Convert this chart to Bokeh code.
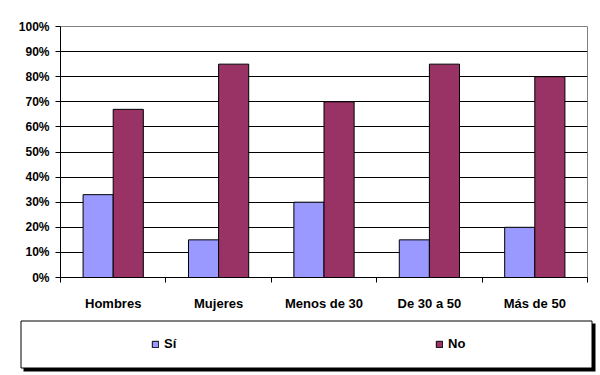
from bokeh.plotting import figure
from bokeh.models import (ColumnDataSource, FixedTicker, PrintfTickFormatter,
                          Legend, LegendItem, Range1d)
from bokeh.transform import dodge
from bokeh.embed import file_html
from bokeh.resources import INLINE

categories = ["Hombres", "Mujeres", "Menos de 30", "De 30 a 50", "Más de 50"]
si = [33, 15, 30, 15, 20]
no = [67, 85, 70, 85, 80]
series_names = ["Sí", "No"]
series_colors = ["#9999FF", "#993366"]
y_ticks = [0, 10, 20, 30, 40, 50, 60, 70, 80, 90, 100]

n = len(categories)
centers = [i + 0.5 for i in range(n)]
boundaries = list(range(n + 1))
src = ColumnDataSource(dict(x=centers, si=si, no=no))

FONT = "Liberation Sans"
bar_w = 1 / 3.5
W = 596

p = figure(width=W, height=313, x_range=(0, n), y_range=(y_ticks[0], y_ticks[-1]),
           output_backend="svg", toolbar_location=None,
           min_border_left=60, min_border_right=9, min_border_top=26, min_border_bottom=28)
p.background_fill_color = "white"
p.border_fill_color = "white"
p.outline_line_color = "#808080"
p.outline_line_width = 1

p.vbar(x=dodge("x", -bar_w / 2, range=p.x_range), top="si", width=bar_w, source=src,
       fill_color=series_colors[0], line_color="black", line_width=1)
p.vbar(x=dodge("x", bar_w / 2, range=p.x_range), top="no", width=bar_w, source=src,
       fill_color=series_colors[1], line_color="black", line_width=1)

# grid
p.xgrid.visible = False
p.ygrid.ticker = FixedTicker(ticks=[t for t in y_ticks if t < y_ticks[-1]])
p.ygrid.grid_line_color = "black"
p.ygrid.grid_line_width = 1

# y axis
ya = p.yaxis[0]
ya.ticker = FixedTicker(ticks=y_ticks)
ya.formatter = PrintfTickFormatter(format="%d%%")
ya.major_tick_out = 5
ya.major_tick_in = 0
ya.minor_tick_line_color = None
ya.axis_line_color = "black"
ya.major_tick_line_color = "black"
ya.major_label_standoff = 6
ya.major_label_text_font = FONT
ya.major_label_text_font_style = "bold"
ya.major_label_text_font_size = "12px"
ya.major_label_text_color = "black"

# x axis
xa = p.xaxis[0]
xa.ticker = FixedTicker(ticks=centers, minor_ticks=boundaries)
xa.major_label_overrides = {c: lab for c, lab in zip(centers, categories)}
xa.major_tick_out = 0
xa.major_tick_in = 0
xa.major_tick_line_color = None
xa.minor_tick_out = 5
xa.minor_tick_in = 0
xa.minor_tick_line_color = "black"
xa.axis_line_color = "black"
xa.major_label_standoff = 13
xa.major_label_text_font = FONT
xa.major_label_text_font_style = "bold"
xa.major_label_text_font_size = "13px"
xa.major_label_text_color = "black"

# legend panel: a separate root whose ranges are in pixels (y downwards)
H2 = 60
p2 = figure(width=W, height=H2, x_range=(0, W), y_range=(H2, 0),
            x_axis_type=None, y_axis_type=None,
            output_backend="svg", toolbar_location=None,
            min_border_left=0, min_border_right=0, min_border_top=0, min_border_bottom=0)
p2.outline_line_color = None
p2.background_fill_color = "white"
p2.border_fill_color = "white"
p2.grid.visible = False
# ranges for the legend-key renderers: they land inside the legend frame,
# which is drawn over them, so only the legend keys remain visible
p2.extra_x_ranges = {"key_x": Range1d(-1, n + 1)}
p2.extra_y_ranges = {"key_y": Range1d(-50, 150)}

l_si = p2.vbar(x="x", top="si", width=bar_w, source=src,
               x_range_name="key_x", y_range_name="key_y",
               fill_color=series_colors[0], line_color="black", line_width=1)
l_no = p2.vbar(x="x", top="no", width=bar_w, source=src,
               x_range_name="key_x", y_range_name="key_y",
               fill_color=series_colors[1], line_color="black", line_width=1)

# frame of the legend, with its drop shadow (drawn after, so it covers the keys' bars)
p2.quad(left=[23], right=[595], top=[10], bottom=[58],
        fill_color="black", line_color=None)
p2.quad(left=[20.5], right=[591.5], top=[7.5], bottom=[54.5],
        fill_color="white", line_color="black", line_width=1)

legend = Legend(items=[LegendItem(label=series_names[0], renderers=[l_si]),
                       LegendItem(label=series_names[1], renderers=[l_no])],
                location=(151, 22), orientation="horizontal",
                padding=0, spacing=0, margin=0,
                glyph_width=8, glyph_height=8, label_standoff=5,
                label_width=271, label_height=14,
                background_fill_alpha=0, border_line_alpha=0,
                label_text_font=FONT, label_text_font_style="bold",
                label_text_font_size="13px", label_text_color="black")
p2.add_layout(legend, "center")

open("out.html", "w").write(file_html([p, p2], INLINE))
